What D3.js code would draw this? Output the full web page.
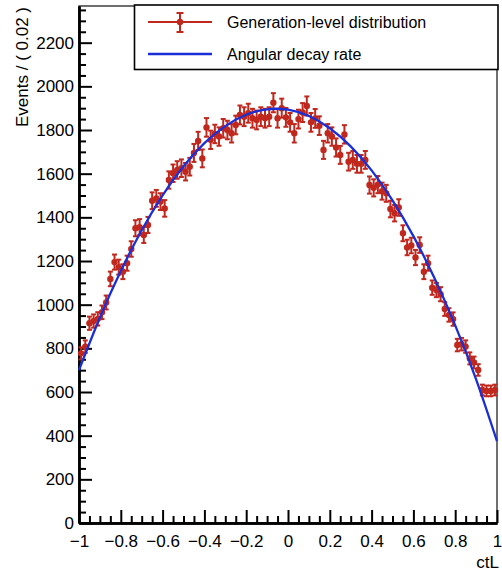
<!DOCTYPE html>
<html>
<head>
<meta charset="utf-8">
<script src="https://cdn.jsdelivr.net/npm/d3@7"></script>
<style>
  html, body { margin: 0; padding: 0; background: #fff; }
  svg { display: block; font-family: "Liberation Sans", Arial, Helvetica, sans-serif; }
</style>
</head>
<body>
<svg id="chart" width="502" height="573"></svg>
<script>
// ---- data ----
// bin centres: ctL from -0.99 to 0.99 (bin width 0.02)
const binCenters = d3.range(100).map(i => -0.99 + 0.02 * i);
const binHalfWidth = 0.01;
const counts = [
  777, 808, 915, 925, 935, 965, 1010, 1118, 1195, 1172,
  1151, 1190, 1255, 1350, 1355, 1319, 1365, 1476, 1487, 1472,
  1441, 1571, 1602, 1617, 1625, 1609, 1632, 1695, 1750, 1670,
  1812, 1755, 1782, 1770, 1808, 1800, 1785, 1823, 1869, 1861,
  1877, 1854, 1846, 1861, 1854, 1861, 1925, 1854, 1900, 1858,
  1835, 1785, 1850, 1880, 1910, 1835, 1853, 1820, 1709, 1785,
  1770, 1720, 1686, 1780, 1655, 1663, 1645, 1645, 1663, 1548,
  1535, 1550, 1520, 1510, 1438, 1419, 1445, 1327, 1262, 1271,
  1216, 1273, 1151, 1190, 1078, 1067, 1048, 980, 953, 934,
  815, 819, 808, 754, 735, 701, 609, 605, 605, 609
];
// fitted curve ("Angular decay rate") read at ctL steps of 0.1
const curveX = [-1, -0.9, -0.8, -0.7, -0.6, -0.5, -0.4, -0.3, -0.2, -0.1, 0,
                 0.1, 0.2, 0.3, 0.4, 0.5, 0.6, 0.7, 0.8, 0.9, 1];
const curveY = [700, 941, 1154, 1341, 1501, 1634, 1740, 1818, 1870, 1895, 1893,
                1864, 1808, 1725, 1615, 1478, 1314, 1123, 905, 658, 375];

const xTickValues = [-1, -0.8, -0.6, -0.4, -0.2, 0, 0.2, 0.4, 0.6, 0.8, 1];
const xTickLabels = ["\u22121", "\u22120.8", "\u22120.6", "\u22120.4", "\u22120.2", "0", "0.2", "0.4", "0.6", "0.8", "1"];
const yTickValues = [0, 200, 400, 600, 800, 1000, 1200, 1400, 1600, 1800, 2000, 2200];
const yTickLabels = ["0", "200", "400", "600", "800", "1000", "1200", "1400", "1600", "1800", "2000", "2200"];
const xMinorStep = 0.05;
const yMinorStep = 50;
const yMax = 2368;

const legendLabels = ["Generation-level distribution", "Angular decay rate"];
const xTitle = "ctL";
const yTitle = "Events / ( 0.02 )";

// ---- layout ----
const red = "#c0281e";
const blue = "#1a2fd8";
const pLeft = 79, pRight = 497, pTop = 6, pBottom = 523;

const svg = d3.select("#chart");
const x = d3.scaleLinear().domain([-1, 1]).range([pLeft, pRight]);
const y = d3.scaleLinear().domain([0, yMax]).range([pBottom, pTop]);

// frame
svg.append("rect")
  .attr("x", pLeft).attr("y", pTop)
  .attr("width", pRight - pLeft).attr("height", pBottom - pTop)
  .attr("fill", "none").attr("stroke", "#222").attr("stroke-width", 1.3);

// minor ticks
const xMinor = d3.range(-1, 1.0001, xMinorStep).filter(v => Math.abs(Math.round(v * 5) - v * 5) > 1e-6);
const yMinor = d3.range(0, yMax, yMinorStep).filter(v => v % 200 !== 0);

function styleAxis(g) {
  g.select(".domain").attr("stroke", "#000").attr("stroke-width", 2.4);
  g.selectAll(".tick line").attr("stroke", "#000").attr("stroke-width", 2);
  g.selectAll("text").attr("font-size", 17).attr("fill", "#000")
    .attr("font-family", '"Liberation Sans", Arial, Helvetica, sans-serif');
}

const gx = svg.append("g").attr("transform", `translate(0,${pBottom})`);
gx.call(d3.axisBottom(x).tickValues(xMinor).tickSize(-7).tickSizeOuter(0).tickFormat(""));
const gxM = svg.append("g").attr("transform", `translate(0,${pBottom})`);
gxM.call(d3.axisBottom(x).tickValues(xTickValues).tickSize(-13).tickSizeOuter(0).tickPadding(12)
  .tickFormat((d, i) => xTickLabels[i]));
styleAxis(gx); styleAxis(gxM);

const gy = svg.append("g").attr("transform", `translate(${pLeft},0)`);
gy.call(d3.axisLeft(y).tickValues(yMinor).tickSize(-7).tickSizeOuter(0).tickFormat(""));
const gyM = svg.append("g").attr("transform", `translate(${pLeft},0)`);
gyM.call(d3.axisLeft(y).tickValues(yTickValues).tickSize(-13).tickSizeOuter(0).tickPadding(5)
  .tickFormat((d, i) => yTickLabels[i]));
styleAxis(gy); styleAxis(gyM);

// axis titles
svg.append("text").attr("x", 499).attr("y", 568).attr("text-anchor", "end")
  .attr("font-size", 17).attr("fill", "#000").text(xTitle);
svg.append("text").attr("transform", `translate(28,7) rotate(-90)`)
  .attr("text-anchor", "end").attr("font-size", 17).attr("fill", "#000").text(yTitle);

// data points with error bars
const pts = binCenters.map((c, i) => ({ c, v: counts[i], e: Math.sqrt(counts[i]) }));
const gd = svg.append("g");
const capW = 2.5;
pts.forEach(p => {
  const g = gd.append("g").attr("stroke", red).attr("stroke-width", 2);
  g.append("line").attr("x1", x(p.c)).attr("x2", x(p.c)).attr("y1", y(p.v - p.e)).attr("y2", y(p.v + p.e));
  g.append("line").attr("x1", x(p.c - binHalfWidth)).attr("x2", x(p.c + binHalfWidth)).attr("y1", y(p.v)).attr("y2", y(p.v));
  g.append("line").attr("x1", x(p.c) - capW).attr("x2", x(p.c) + capW).attr("y1", y(p.v - p.e)).attr("y2", y(p.v - p.e));
  g.append("line").attr("x1", x(p.c) - capW).attr("x2", x(p.c) + capW).attr("y1", y(p.v + p.e)).attr("y2", y(p.v + p.e));
  gd.append("circle").attr("cx", x(p.c)).attr("cy", y(p.v)).attr("r", 3.2).attr("fill", red);
});

// fitted curve
const line = d3.line().x((d, i) => x(curveX[i])).y(d => y(d)).curve(d3.curveNatural);
svg.append("path").datum(curveY).attr("d", line)
  .attr("fill", "none").attr("stroke", blue).attr("stroke-width", 2.3);

// legend
const lg = svg.append("g");
lg.append("rect").attr("x", 134.5).attr("y", 5).attr("width", 363.5).attr("height", 64.5)
  .attr("fill", "#fff").attr("stroke", "#000").attr("stroke-width", 1.6);
const ly1 = 22, ly2 = 54;
lg.append("line").attr("x1", 148).attr("x2", 212).attr("y1", ly1).attr("y2", ly1)
  .attr("stroke", red).attr("stroke-width", 2);
lg.append("line").attr("x1", 180).attr("x2", 180).attr("y1", 13).attr("y2", 32)
  .attr("stroke", red).attr("stroke-width", 2);
lg.append("line").attr("x1", 176.5).attr("x2", 183.5).attr("y1", 13).attr("y2", 13)
  .attr("stroke", red).attr("stroke-width", 2);
lg.append("line").attr("x1", 176.5).attr("x2", 183.5).attr("y1", 32).attr("y2", 32)
  .attr("stroke", red).attr("stroke-width", 2);
lg.append("circle").attr("cx", 180).attr("cy", ly1).attr("r", 3.2).attr("fill", red);
lg.append("line").attr("x1", 148).attr("x2", 212).attr("y1", ly2).attr("y2", ly2)
  .attr("stroke", blue).attr("stroke-width", 2.3);
lg.append("text").attr("x", 227).attr("y", ly1).attr("dy", "0.35em")
  .attr("font-size", 16).attr("fill", "#000").text(legendLabels[0]);
lg.append("text").attr("x", 227).attr("y", ly2).attr("dy", "0.35em")
  .attr("font-size", 16).attr("fill", "#000").text(legendLabels[1]);
</script>
</body>
</html>
